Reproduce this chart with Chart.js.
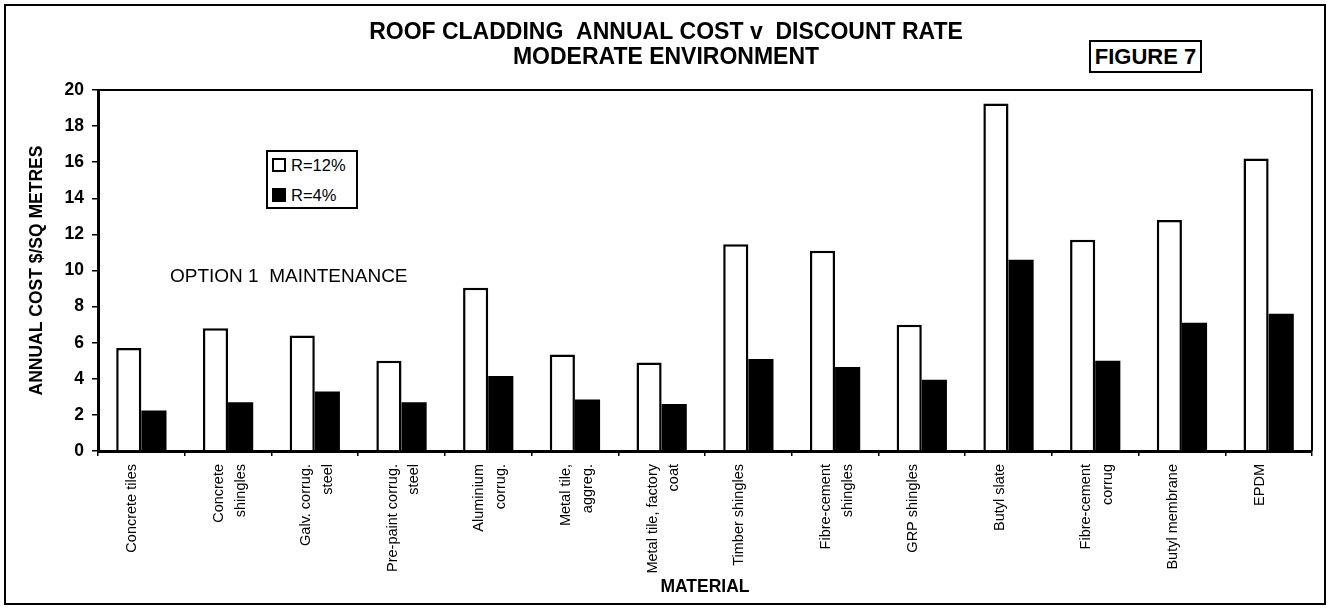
<!DOCTYPE html>
<html><head><meta charset="utf-8">
<script src="https://cdn.jsdelivr.net/npm/chart.js@4.4.1/dist/chart.umd.min.js"></script>
<style>
html,body{margin:0;padding:0;background:#fff;}
#wrap{position:relative;width:1330px;height:613px;font-family:"Liberation Sans",Arial,sans-serif;color:#000;}
#c{position:absolute;left:0;top:0;}
#frame{position:absolute;left:4px;top:4px;width:1318px;height:597px;border:2px solid #000;pointer-events:none;}
#fig{position:absolute;left:1089px;top:40px;width:109px;height:29px;border:2px solid #000;font-weight:bold;font-size:22px;line-height:30px;text-align:center;background:#fff;}
#legend{position:absolute;left:266px;top:150px;width:88px;height:55px;border:2px solid #000;background:#fff;font-size:16.5px;}
.item{position:absolute;left:4px;height:18px;line-height:18px;white-space:nowrap;}
.sw{display:inline-block;width:10px;height:10px;border:2px solid #000;vertical-align:-1px;margin-right:5px;}
#note{position:absolute;left:170px;top:265px;font-size:19px;white-space:nowrap;}
</style>
</head><body>
<div id="wrap">
<canvas id="c" width="1330" height="613"></canvas>
<div id="frame"></div>
<div id="fig">FIGURE 7</div>
<div id="legend"></div>
<div id="note">OPTION 1&nbsp; MAINTENANCE</div>
</div>
<script>
const categories = [
  "Concrete tiles",
  ["Concrete","shingles"],
  ["Galv. corrug.","steel"],
  ["Pre-paint corrug.","steel"],
  ["Aluminium","corrug."],
  ["Metal tile,","aggreg."],
  ["Metal tile, factory","coat"],
  "Timber shingles",
  ["Fibre-cement","shingles"],
  "GRP shingles",
  "Butyl slate",
  ["Fibre-cement","corrug"],
  "Butyl membrane",
  "EPDM"
];
const seriesNames = ["R=12%", "R=4%"];
const r12 = [5.7, 6.8, 6.4, 5.0, 9.05, 5.35, 4.9, 11.45, 11.1, 7.0, 19.25, 11.7, 12.8, 16.2];
const r4  = [2.25, 2.7, 3.3, 2.7, 4.15, 2.85, 2.6, 5.1, 4.65, 3.95, 10.6, 5.0, 7.1, 7.6];
const yTicks = [0, 2, 4, 6, 8, 10, 12, 14, 16, 18, 20];
const titleLines = ["ROOF CLADDING  ANNUAL COST v  DISCOUNT RATE", "MODERATE ENVIRONMENT"];
const yTitle = "ANNUAL COST $/SQ METRES";
const xTitle = "MATERIAL";

const FONT = '"Liberation Sans", Arial, sans-serif';
Chart.defaults.color = '#000';
Chart.defaults.font.family = FONT;

const frame = {
  id: 'plotFrame',
  afterDraw(chart) {
    const a = chart.chartArea, ctx = chart.ctx;
    ctx.save();
    ctx.strokeStyle = '#000';
    ctx.lineWidth = 2;
    ctx.beginPath();
    ctx.moveTo(a.left, a.top);
    ctx.lineTo(a.right, a.top);
    ctx.lineTo(a.right, a.bottom);
    ctx.stroke();
    ctx.restore();
  }
};

const chart = new Chart(document.getElementById('c'), {
  type: 'bar',
  data: {
    labels: categories,
    datasets: [
      { label: seriesNames[0], data: r12, backgroundColor: '#fff', borderColor: '#000', borderWidth: 2.5, borderSkipped: 'bottom' },
      { label: seriesNames[1], data: r4, backgroundColor: '#000', borderColor: '#000', borderWidth: 0 }
    ]
  },
  options: {
    responsive: false,
    animation: false,
    devicePixelRatio: 1,
    layout: { padding: { top: 8, left: 20, right: 18, bottom: 8 } },
    datasets: { bar: { barPercentage: 1.0, categoryPercentage: 0.58 } },
    plugins: {
      legend: { display: false },
      tooltip: { enabled: false },
      title: {
        display: true,
        text: titleLines,
        color: '#000',
        font: { size: 23, weight: 'bold', family: FONT, lineHeight: 25/23 },
        padding: { top: 12.5, bottom: 19.5 }
      }
    },
    scales: {
      x: {
        type: 'category',
        grid: { display: true, drawOnChartArea: false, drawTicks: true, tickLength: 5, color: '#000', lineWidth: 1.5, offset: true },
        border: { display: true, color: '#000', width: 3 },
        ticks: {
          autoSkip: false, maxRotation: 90, minRotation: 90, padding: 8, labelOffset: -9,
          color: '#000', font: { size: 14.5, family: FONT, lineHeight: 1.5 }
        },
        title: { display: true, text: xTitle, color: '#000', font: { size: 17.5, weight: 'bold', family: FONT, lineHeight: 1.2 }, padding: { top: 0, bottom: 7 } },
        afterFit(scale) { scale.height = 154; }
      },
      y: {
        min: 0, max: 20,
        afterBuildTicks(scale) { scale.ticks = yTicks.map(v => ({ value: v })); },
        grid: { display: true, drawOnChartArea: false, drawTicks: true, tickLength: 6, color: '#000', lineWidth: 1.5 },
        border: { display: true, color: '#000', width: 3 },
        ticks: { padding: 8, color: '#000', font: { size: 17.5, weight: 'bold', family: FONT } },
        title: { display: true, text: yTitle, color: '#000', font: { size: 17.5, weight: 'bold', family: FONT, lineHeight: 1.2 }, padding: { top: 7, bottom: 0 } },
        afterFit(scale) { scale.width = 78; }
      }
    }
  },
  plugins: [frame]
});

// legend built from the chart's datasets
const lg = document.getElementById('legend');
chart.data.datasets.forEach((ds, i) => {
  const it = document.createElement('div');
  it.className = 'item';
  it.style.top = (4 + i * 30) + 'px';
  const sw = document.createElement('span');
  sw.className = 'sw';
  sw.style.background = ds.backgroundColor;
  it.appendChild(sw);
  it.appendChild(document.createTextNode(ds.label));
  lg.appendChild(it);
});
</script>
</body></html>
